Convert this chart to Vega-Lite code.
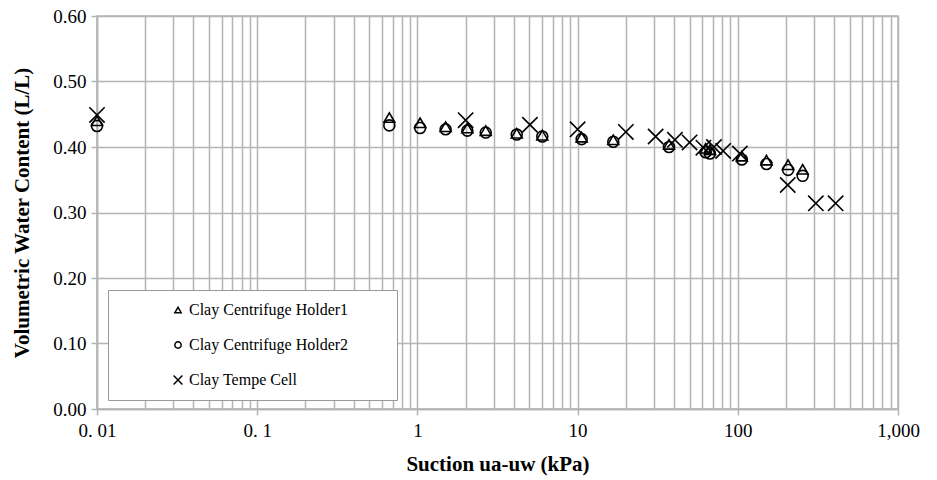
{
  "$schema": "https://vega.github.io/schema/vega-lite/v6.json",
  "autosize": {"type": "none"},
  "padding": {"left": 97, "top": 16, "right": 39, "bottom": 71},
  "width": 801,
  "height": 393,
  "background": "white",
  "config": {
    "font": "Liberation Serif",
    "view": {"stroke": "#b4b4b4", "strokeWidth": 1.5},
    "legend": {"labelFont": "Liberation Serif", "titleFont": "Liberation Serif"},
    "axis": {
      "gridColor": "#b4b4b4",
      "gridWidth": 1.5,
      "gridOpacity": 1,
      "domainColor": "#b4b4b4",
      "domainWidth": 1.5,
      "tickColor": "#b4b4b4",
      "tickWidth": 1.5,
      "labelFont": "Liberation Serif",
      "labelFontSize": 19,
      "labelColor": "#000",
      "titleFont": "Liberation Serif",
      "titleFontSize": 21,
      "titleFontWeight": "bold",
      "titleColor": "#000"
    }
  },
  "data": {
    "values": [
      {"series": "Clay Centrifuge Holder1", "suction": 0.01, "vwc": 0.44},
      {"series": "Clay Centrifuge Holder1", "suction": 0.668, "vwc": 0.445},
      {"series": "Clay Centrifuge Holder1", "suction": 1.04, "vwc": 0.437},
      {"series": "Clay Centrifuge Holder1", "suction": 1.5, "vwc": 0.431},
      {"series": "Clay Centrifuge Holder1", "suction": 2.05, "vwc": 0.429},
      {"series": "Clay Centrifuge Holder1", "suction": 2.67, "vwc": 0.425},
      {"series": "Clay Centrifuge Holder1", "suction": 4.17, "vwc": 0.421},
      {"series": "Clay Centrifuge Holder1", "suction": 6.02, "vwc": 0.418},
      {"series": "Clay Centrifuge Holder1", "suction": 10.6, "vwc": 0.415},
      {"series": "Clay Centrifuge Holder1", "suction": 16.7, "vwc": 0.411},
      {"series": "Clay Centrifuge Holder1", "suction": 37.2, "vwc": 0.404},
      {"series": "Clay Centrifuge Holder1", "suction": 63, "vwc": 0.398},
      {"series": "Clay Centrifuge Holder1", "suction": 67, "vwc": 0.396},
      {"series": "Clay Centrifuge Holder1", "suction": 106, "vwc": 0.386},
      {"series": "Clay Centrifuge Holder1", "suction": 151, "vwc": 0.38},
      {"series": "Clay Centrifuge Holder1", "suction": 206, "vwc": 0.373},
      {"series": "Clay Centrifuge Holder1", "suction": 254, "vwc": 0.366},
      {"series": "Clay Centrifuge Holder2", "suction": 0.01, "vwc": 0.432},
      {"series": "Clay Centrifuge Holder2", "suction": 0.668, "vwc": 0.433},
      {"series": "Clay Centrifuge Holder2", "suction": 1.04, "vwc": 0.429},
      {"series": "Clay Centrifuge Holder2", "suction": 1.5, "vwc": 0.427},
      {"series": "Clay Centrifuge Holder2", "suction": 2.05, "vwc": 0.425},
      {"series": "Clay Centrifuge Holder2", "suction": 2.67, "vwc": 0.422},
      {"series": "Clay Centrifuge Holder2", "suction": 4.17, "vwc": 0.419},
      {"series": "Clay Centrifuge Holder2", "suction": 6.02, "vwc": 0.416},
      {"series": "Clay Centrifuge Holder2", "suction": 10.6, "vwc": 0.412},
      {"series": "Clay Centrifuge Holder2", "suction": 16.7, "vwc": 0.408},
      {"series": "Clay Centrifuge Holder2", "suction": 37.2, "vwc": 0.4},
      {"series": "Clay Centrifuge Holder2", "suction": 63, "vwc": 0.392},
      {"series": "Clay Centrifuge Holder2", "suction": 67, "vwc": 0.39},
      {"series": "Clay Centrifuge Holder2", "suction": 106, "vwc": 0.381},
      {"series": "Clay Centrifuge Holder2", "suction": 151, "vwc": 0.374},
      {"series": "Clay Centrifuge Holder2", "suction": 206, "vwc": 0.365},
      {"series": "Clay Centrifuge Holder2", "suction": 254, "vwc": 0.356},
      {"series": "Clay Tempe Cell", "suction": 0.01, "vwc": 0.449},
      {"series": "Clay Tempe Cell", "suction": 2.0, "vwc": 0.441},
      {"series": "Clay Tempe Cell", "suction": 5.04, "vwc": 0.434},
      {"series": "Clay Tempe Cell", "suction": 10, "vwc": 0.427},
      {"series": "Clay Tempe Cell", "suction": 20, "vwc": 0.423},
      {"series": "Clay Tempe Cell", "suction": 30.7, "vwc": 0.416},
      {"series": "Clay Tempe Cell", "suction": 40.5, "vwc": 0.411},
      {"series": "Clay Tempe Cell", "suction": 50, "vwc": 0.407},
      {"series": "Clay Tempe Cell", "suction": 61, "vwc": 0.399},
      {"series": "Clay Tempe Cell", "suction": 71, "vwc": 0.4},
      {"series": "Clay Tempe Cell", "suction": 81, "vwc": 0.394},
      {"series": "Clay Tempe Cell", "suction": 103, "vwc": 0.39},
      {"series": "Clay Tempe Cell", "suction": 205, "vwc": 0.342},
      {"series": "Clay Tempe Cell", "suction": 307, "vwc": 0.314},
      {"series": "Clay Tempe Cell", "suction": 408, "vwc": 0.314}
    ]
  },
  "mark": {"type": "point", "filled": false, "stroke": "#000", "strokeWidth": 1.6, "opacity": 1, "size": 120},
  "encoding": {
    "x": {
      "field": "suction",
      "type": "quantitative",
      "scale": {"type": "log", "domain": [0.01, 1000]},
      "axis": {
        "title": "Suction ua-uw (kPa)",
        "titlePadding": 13,
        "values": [0.01,0.02,0.03,0.04,0.05,0.06,0.07,0.08,0.09,0.1,0.2,0.3,0.4,0.5,0.6,0.7,0.8,0.9,1,2,3,4,5,6,7,8,9,10,20,30,40,50,60,70,80,90,100,200,300,400,500,600,700,800,900,1000],
        "labelExpr": "datum.value == 0.01 ? '0. 01' : datum.value == 0.1 ? '0. 1' : (datum.value == 1 || datum.value == 10 || datum.value == 100) ? format(datum.value, 'd') : datum.value == 1000 ? '1,000' : ''",
        "tickSize": 6,
        "tickOpacity": {"condition": {"test": "datum.value == 0.01 || datum.value == 0.1 || datum.value == 1 || datum.value == 10 || datum.value == 100 || datum.value == 1000", "value": 1}, "value": 0},
        "labelPadding": 6,
        "labelFlush": false,
        "labelOverlap": false
      }
    },
    "y": {
      "field": "vwc",
      "type": "quantitative",
      "scale": {"domain": [0, 0.6], "nice": false, "zero": true},
      "axis": {
        "title": "Volumetric Water Content (L/L)",
        "titlePadding": 20,
        "values": [0, 0.1, 0.2, 0.3, 0.4, 0.5, 0.6],
        "format": ".2f",
        "tickSize": 6,
        "labelPadding": 5
      }
    },
    "shape": {
      "field": "series",
      "type": "nominal",
      "scale": {
        "domain": ["Clay Centrifuge Holder1", "Clay Centrifuge Holder2", "Clay Tempe Cell"],
        "range": ["triangle-up", "circle", "M-1.4,-1.4L1.4,1.4M-1.4,1.4L1.4,-1.4"]
      },
      "legend": {
        "title": null,
        "orient": "none",
        "legendX": 11,
        "legendY": 274,
        "fillColor": "white",
        "strokeColor": "#999999",
        "padding": 12,
        "symbolOffset": 50,
        "rowPadding": 19,
        "symbolSize": 40,
        "labelOffset": 3,
        "symbolStrokeColor": "#000",
        "symbolStrokeWidth": 1.5,
        "labelFont": "Liberation Serif",
        "labelFontSize": 16,
        "labelColor": "#000",
        "labelLimit": 400,
        "labelExpr": "datum.label + '\u2800\u2800\u2800'"
      }
    }
  }
}
